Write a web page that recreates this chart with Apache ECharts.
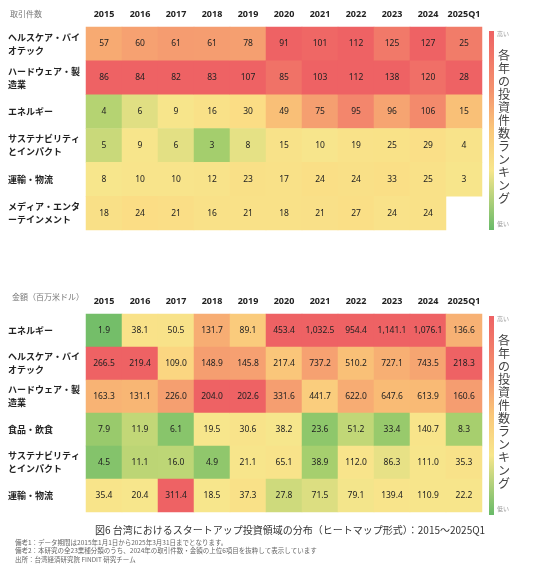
<!DOCTYPE html>
<html><head><meta charset="utf-8">
<script src="https://cdn.jsdelivr.net/npm/echarts@6/dist/echarts.min.js"></script>
<style>html,body{margin:0;background:#fff}#c{width:554px;height:564px}</style>
</head><body><div id="c"></div>
<script>
const years = ['2015','2016','2017','2018','2019','2020','2021','2022','2023','2024','2025Q1'];
const countRows = ['ヘルスケア・バイ\nオテック','ハードウェア・製\n造業','エネルギー','サステナビリティ\nとインパクト','運輸・物流','メディア・エンタ\nーテインメント'];
const countHealth = [57,60,61,61,78,91,101,112,125,127,25];
const countHardware = [86,84,82,83,107,85,103,112,138,120,28];
const countEnergy = [4,6,9,16,30,49,75,95,96,106,15];
const countSustain = [5,9,6,3,8,15,10,19,25,29,4];
const countTransport = [8,10,10,12,23,17,24,24,33,25,3];
const countMedia = [18,24,21,16,21,18,21,27,24,24,null];
const amtRows = ['エネルギー','ヘルスケア・バイ\nオテック','ハードウェア・製\n造業','食品・飲食','サステナビリティ\nとインパクト','運輸・物流'];
const amtEnergy = [1.9,38.1,50.5,131.7,89.1,453.4,1032.5,954.4,1141.1,1076.1,136.6];
const amtHealth = [266.5,219.4,109.0,148.9,145.8,217.4,737.2,510.2,727.1,743.5,218.3];
const amtHardware = [163.3,131.1,226.0,204.0,202.6,331.6,441.7,622.0,647.6,613.9,160.6];
const amtFood = [7.9,11.9,6.1,19.5,30.6,38.2,23.6,51.2,33.4,140.7,8.3];
const amtSustain = [4.5,11.1,16.0,4.9,21.1,65.1,38.9,112.0,86.3,111.0,35.3];
const amtTransport = [35.4,20.4,311.4,18.5,37.3,27.8,71.5,79.1,139.4,110.9,22.2];
const countData = [countHealth,countHardware,countEnergy,countSustain,countTransport,countMedia];
const amtData = [amtEnergy,amtHealth,amtHardware,amtFood,amtSustain,amtTransport];

const stops = [[0,[104,186,104]],[0.04,[170,208,110]],[0.085,[247,230,140]],[0.3,[251,220,132]],[0.55,[249,190,118]],[0.8,[244,146,110]],[1,[238,98,100]]];
function cmap(t){
  t=Math.max(0,Math.min(1,t));
  for(let i=1;i<stops.length;i++){
    if(t<=stops[i][0]){
      const a=stops[i-1],b=stops[i],f=(t-a[0])/(b[0]-a[0]);
      const c=a[1].map((v,k)=>Math.round(v+(b[1][k]-v)*f));
      return 'rgb('+c.join(',')+')';
    }
  }
}
function build(rows){
  const out=[];
  for(let c=0;c<years.length;c++){
    const mx=Math.max(...rows.map(r=>r[c]).filter(v=>v!=null));
    rows.forEach((r,ri)=>{
      if(r[c]==null)return;
      out.push({value:[c,ri,r[c]],itemStyle:{color:cmap(r[c]/mx)}});
    });
  }
  return out;
}
const fmt1 = v=>v.toLocaleString('en-US',{minimumFractionDigits:1,maximumFractionDigits:1});
const font='"Noto Sans CJK JP", sans-serif';
function xAx(i){return {type:'category',data:years,gridIndex:i,position:'top',axisLine:{show:false},axisTick:{show:false},
  axisLabel:{interval:0,color:'#222',fontSize:9,fontWeight:'bold',margin:8,fontFamily:'Noto Sans'}};}
function yAx(i,rows){return {type:'category',data:rows,gridIndex:i,inverse:true,axisLine:{show:false},axisTick:{show:false},
  axisLabel:{interval:0,color:'#222',fontSize:9,fontWeight:'bold',align:'left',margin:78,lineHeight:13,fontFamily:font}};}
function bar(top){
  return [
    {type:'rect',left:489,top:top,shape:{width:5,height:199},style:{fill:new echarts.graphic.LinearGradient(0,0,0,1,[
      {offset:0,color:'rgb(238,98,100)'},{offset:0.3,color:'rgb(244,146,110)'},{offset:0.5,color:'rgb(250,200,122)'},{offset:0.7,color:'rgb(247,230,140)'},{offset:1,color:'rgb(104,186,104)'}])}},
    {type:'text',left:497,top:top,style:{text:'高い',fontSize:6,fill:'#999',fontFamily:font}},
    {type:'text',left:497,top:top+190,style:{text:'低い',fontSize:6,fill:'#999',fontFamily:font}},
    {type:'text',left:498,top:top+18,style:{text:'各\n年\nの\n投\n資\n件\n数\nラ\nン\nキ\nン\nグ',fontSize:12,lineHeight:13,fill:'#444',fontFamily:font}}
  ];
}
const chart=echarts.init(document.getElementById('c'));
chart.setOption({
  animation:false,
  grid:[{left:86,top:27,width:396,height:203},{left:86,top:314,width:396,height:198}],
  xAxis:[xAx(0),xAx(1)],
  yAxis:[yAx(0,countRows),yAx(1,amtRows)],
  series:[
    {type:'heatmap',xAxisIndex:0,yAxisIndex:0,data:build(countData),
      label:{show:true,formatter:p=>p.value[2],fontSize:8.5,color:'#222',fontFamily:'Noto Sans'}},
    {type:'heatmap',xAxisIndex:1,yAxisIndex:1,data:build(amtData),
      label:{show:true,formatter:p=>fmt1(p.value[2]),fontSize:8.5,color:'#222',fontFamily:'Noto Sans'}}
  ],
  graphic:[
    {type:'text',left:10,top:10,style:{text:'取引件数',fontSize:8,fill:'#777',fontFamily:font}},
    {type:'text',left:12,top:293,style:{text:'金額（百万米ドル）',fontSize:8,fill:'#777',fontFamily:font}},
    ...bar(31),...bar(316),
    {type:'text',left:95,top:525,style:{text:'図6 台湾におけるスタートアップ投資領域の分布（ヒートマップ形式）：2015～2025Q1',fontSize:10,fill:'#333',fontFamily:font}},
    {type:'text',left:15,top:538,style:{text:'備考1：データ期間は2015年1月1日から2025年3月31日までとなります。\n備考2：本研究の全23業種分類のうち、2024年の取引件数・金額の上位6項目を抜粋して表示しています\n出所：台湾経済研究院 FINDIT 研究チーム',fontSize:6.5,lineHeight:8.5,fill:'#666',fontFamily:font}}
  ]
});
</script></body></html>
